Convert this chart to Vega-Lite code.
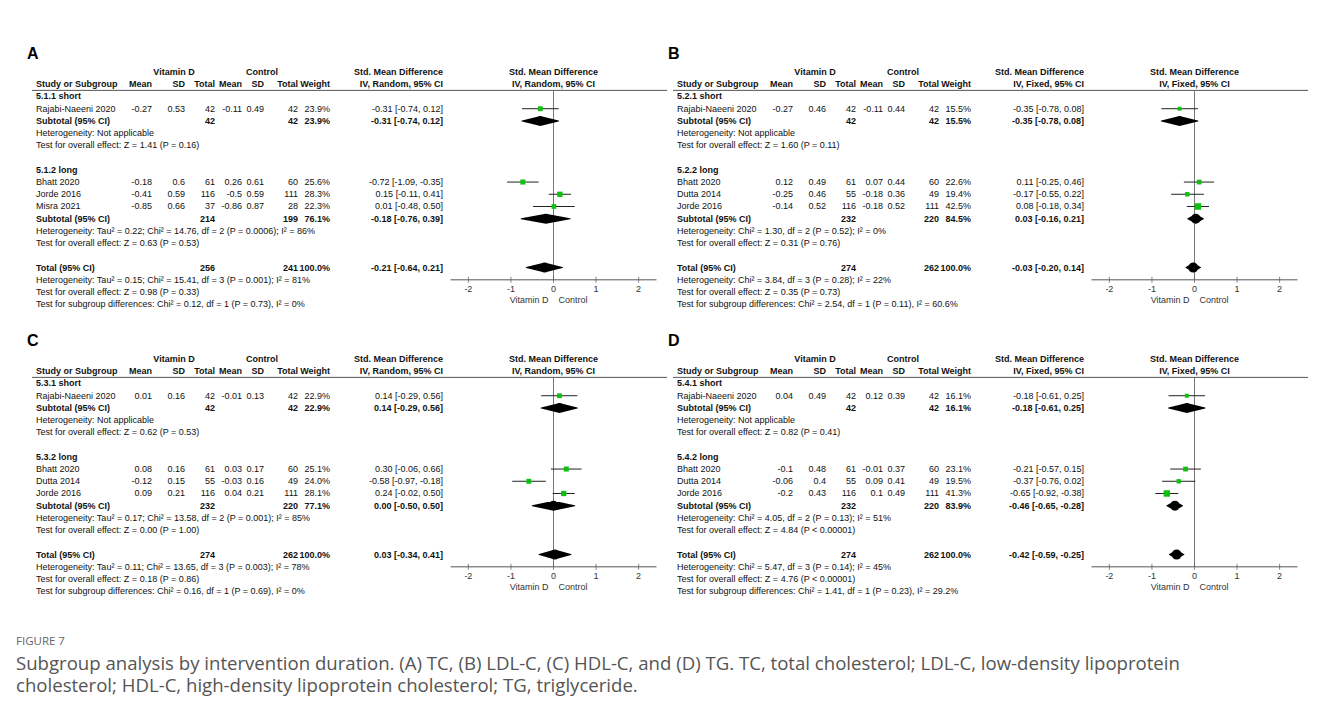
{
  "$schema": "https://vega.github.io/schema/vega-lite/v6.json",
  "background": "white",
  "padding": {"left": 16, "top": 40.5, "right": 0, "bottom": 8},
  "bounds": "flush",
  "config": {
    "view": {"stroke": null},
    "font": "Liberation Sans",
    "text": {"fontSize": 9, "color": "#111", "baseline": "middle"}
  },
  "title": {
    "text": "FIGURE 7",
    "subtitle": ["Subgroup analysis by intervention duration. (A) TC, (B) LDL-C, (C) HDL-C, and (D) TG. TC, total cholesterol; LDL-C, low-density lipoprotein", "cholesterol; HDL-C, high-density lipoprotein cholesterol; TG, triglyceride."],
    "orient": "bottom", "anchor": "start", "frame": "group", "dx": -16, "offset": 27,
    "font": "Open Sans", "fontSize": 11.5, "fontWeight": "normal", "color": "#666",
    "subtitleFont": "Open Sans", "subtitleFontSize": 18.6, "subtitleColor": "#555", "subtitleLineHeight": 22, "subtitlePadding": 8
  },
  "data": {"values": [
    {"p":"A","k":"L","r":-2,"c":0,"t":"A"},{"p":"A","k":"ax","r0":1.5,"r":17},
    {"p":"A","k":"fh","r":0,"t":"Std. Mean Difference"},{"p":"A","k":"fh","r":1,"t":"IV, Random, 95% CI"},
    {"p":"A","k":"fl","r":17,"t":"Vitamin D"},{"p":"A","k":"fr","r":17,"t":"Control"},
    {"p":"A","k":"tk","r":17,"v":-2},{"p":"A","k":"tk","r":17,"v":-1},{"p":"A","k":"tk","r":17,"v":0},{"p":"A","k":"tk","r":17,"v":1},{"p":"A","k":"tk","r":17,"v":2},
    {"p":"A","k":"ci","r":3,"est":-0.31,"lo":-0.74,"hi":0.12,"wt":23.9},
    {"p":"A","k":"ci","r":9,"est":-0.72,"lo":-1.09,"hi":-0.35,"wt":25.6},
    {"p":"A","k":"ci","r":10,"est":0.15,"lo":-0.11,"hi":0.41,"wt":28.3},
    {"p":"A","k":"ci","r":11,"est":0.01,"lo":-0.48,"hi":0.50,"wt":22.3},
    {"p":"A","k":"dm","r":4,"lo":-0.74,"est":-0.31,"hi":0.12},
    {"p":"A","k":"dm","r":12,"lo":-0.76,"est":-0.18,"hi":0.39},
    {"p":"A","k":"dm","r":16,"lo":-0.64,"est":-0.21,"hi":0.21},
    {"p":"A","k":"b","r":0,"c":10,"t":"Vitamin D"},{"p":"A","k":"b","r":0,"c":11,"t":"Control"},{"p":"A","k":"b","r":0,"c":9,"t":"Std. Mean Difference"},
    {"p":"A","k":"b","r":1,"c":1,"t":"Study or Subgroup"},{"p":"A","k":"b","r":1,"c":2,"t":"Mean"},{"p":"A","k":"b","r":1,"c":3,"t":"SD"},{"p":"A","k":"b","r":1,"c":4,"t":"Total"},{"p":"A","k":"b","r":1,"c":5,"t":"Mean"},{"p":"A","k":"b","r":1,"c":6,"t":"SD"},{"p":"A","k":"b","r":1,"c":7,"t":"Total"},{"p":"A","k":"b","r":1,"c":8,"t":"Weight"},{"p":"A","k":"b","r":1,"c":9,"t":"IV, Random, 95% CI"},
    {"p":"A","k":"b","r":2,"c":1,"t":"5.1.1 short"},
    {"p":"A","k":"s","r":3,"c":1,"t":"Rajabi-Naeeni 2020"},{"p":"A","k":"s","r":3,"c":2,"t":"-0.27"},{"p":"A","k":"s","r":3,"c":3,"t":"0.53"},{"p":"A","k":"s","r":3,"c":4,"t":"42"},{"p":"A","k":"s","r":3,"c":5,"t":"-0.11"},{"p":"A","k":"s","r":3,"c":6,"t":"0.49"},{"p":"A","k":"s","r":3,"c":7,"t":"42"},{"p":"A","k":"s","r":3,"c":8,"t":"23.9%"},{"p":"A","k":"s","r":3,"c":9,"t":"-0.31 [-0.74, 0.12]"},
    {"p":"A","k":"b","r":4,"c":1,"t":"Subtotal (95% CI)"},{"p":"A","k":"b","r":4,"c":4,"t":"42"},{"p":"A","k":"b","r":4,"c":7,"t":"42"},{"p":"A","k":"b","r":4,"c":8,"t":"23.9%"},{"p":"A","k":"b","r":4,"c":9,"t":"-0.31 [-0.74, 0.12]"},
    {"p":"A","k":"s","r":5,"c":1,"t":"Heterogeneity: Not applicable"},
    {"p":"A","k":"s","r":6,"c":1,"t":"Test for overall effect: Z = 1.41 (P = 0.16)"},
    {"p":"A","k":"b","r":8,"c":1,"t":"5.1.2 long"},
    {"p":"A","k":"s","r":9,"c":1,"t":"Bhatt 2020"},{"p":"A","k":"s","r":9,"c":2,"t":"-0.18"},{"p":"A","k":"s","r":9,"c":3,"t":"0.6"},{"p":"A","k":"s","r":9,"c":4,"t":"61"},{"p":"A","k":"s","r":9,"c":5,"t":"0.26"},{"p":"A","k":"s","r":9,"c":6,"t":"0.61"},{"p":"A","k":"s","r":9,"c":7,"t":"60"},{"p":"A","k":"s","r":9,"c":8,"t":"25.6%"},{"p":"A","k":"s","r":9,"c":9,"t":"-0.72 [-1.09, -0.35]"},
    {"p":"A","k":"s","r":10,"c":1,"t":"Jorde 2016"},{"p":"A","k":"s","r":10,"c":2,"t":"-0.41"},{"p":"A","k":"s","r":10,"c":3,"t":"0.59"},{"p":"A","k":"s","r":10,"c":4,"t":"116"},{"p":"A","k":"s","r":10,"c":5,"t":"-0.5"},{"p":"A","k":"s","r":10,"c":6,"t":"0.59"},{"p":"A","k":"s","r":10,"c":7,"t":"111"},{"p":"A","k":"s","r":10,"c":8,"t":"28.3%"},{"p":"A","k":"s","r":10,"c":9,"t":"0.15 [-0.11, 0.41]"},
    {"p":"A","k":"s","r":11,"c":1,"t":"Misra 2021"},{"p":"A","k":"s","r":11,"c":2,"t":"-0.85"},{"p":"A","k":"s","r":11,"c":3,"t":"0.66"},{"p":"A","k":"s","r":11,"c":4,"t":"37"},{"p":"A","k":"s","r":11,"c":5,"t":"-0.86"},{"p":"A","k":"s","r":11,"c":6,"t":"0.87"},{"p":"A","k":"s","r":11,"c":7,"t":"28"},{"p":"A","k":"s","r":11,"c":8,"t":"22.3%"},{"p":"A","k":"s","r":11,"c":9,"t":"0.01 [-0.48, 0.50]"},
    {"p":"A","k":"b","r":12,"c":1,"t":"Subtotal (95% CI)"},{"p":"A","k":"b","r":12,"c":4,"t":"214"},{"p":"A","k":"b","r":12,"c":7,"t":"199"},{"p":"A","k":"b","r":12,"c":8,"t":"76.1%"},{"p":"A","k":"b","r":12,"c":9,"t":"-0.18 [-0.76, 0.39]"},
    {"p":"A","k":"s","r":13,"c":1,"t":"Heterogeneity: Tau² = 0.22; Chi² = 14.76, df = 2 (P = 0.0006); I² = 86%"},
    {"p":"A","k":"s","r":14,"c":1,"t":"Test for overall effect: Z = 0.63 (P = 0.53)"},
    {"p":"A","k":"b","r":16,"c":1,"t":"Total (95% CI)"},{"p":"A","k":"b","r":16,"c":4,"t":"256"},{"p":"A","k":"b","r":16,"c":7,"t":"241"},{"p":"A","k":"b","r":16,"c":8,"t":"100.0%"},{"p":"A","k":"b","r":16,"c":9,"t":"-0.21 [-0.64, 0.21]"},
    {"p":"A","k":"s","r":17,"c":1,"t":"Heterogeneity: Tau² = 0.15; Chi² = 15.41, df = 3 (P = 0.001); I² = 81%"},
    {"p":"A","k":"s","r":18,"c":1,"t":"Test for overall effect: Z = 0.98 (P = 0.33)"},
    {"p":"A","k":"s","r":19,"c":1,"t":"Test for subgroup differences: Chi² = 0.12, df = 1 (P = 0.73), I² = 0%"},

    {"p":"B","k":"L","r":-2,"c":0,"t":"B"},{"p":"B","k":"ax","r0":1.5,"r":17},
    {"p":"B","k":"fh","r":0,"t":"Std. Mean Difference"},{"p":"B","k":"fh","r":1,"t":"IV, Fixed, 95% CI"},
    {"p":"B","k":"fl","r":17,"t":"Vitamin D"},{"p":"B","k":"fr","r":17,"t":"Control"},
    {"p":"B","k":"tk","r":17,"v":-2},{"p":"B","k":"tk","r":17,"v":-1},{"p":"B","k":"tk","r":17,"v":0},{"p":"B","k":"tk","r":17,"v":1},{"p":"B","k":"tk","r":17,"v":2},
    {"p":"B","k":"ci","r":3,"est":-0.35,"lo":-0.78,"hi":0.08,"wt":15.5},
    {"p":"B","k":"ci","r":9,"est":0.11,"lo":-0.25,"hi":0.46,"wt":22.6},
    {"p":"B","k":"ci","r":10,"est":-0.17,"lo":-0.55,"hi":0.22,"wt":19.4},
    {"p":"B","k":"ci","r":11,"est":0.08,"lo":-0.18,"hi":0.34,"wt":42.5},
    {"p":"B","k":"dm","r":4,"lo":-0.78,"est":-0.35,"hi":0.08},
    {"p":"B","k":"dm","r":12,"lo":-0.16,"est":0.03,"hi":0.21},
    {"p":"B","k":"dm","r":16,"lo":-0.20,"est":-0.03,"hi":0.14},
    {"p":"B","k":"b","r":0,"c":10,"t":"Vitamin D"},{"p":"B","k":"b","r":0,"c":11,"t":"Control"},{"p":"B","k":"b","r":0,"c":9,"t":"Std. Mean Difference"},
    {"p":"B","k":"b","r":1,"c":1,"t":"Study or Subgroup"},{"p":"B","k":"b","r":1,"c":2,"t":"Mean"},{"p":"B","k":"b","r":1,"c":3,"t":"SD"},{"p":"B","k":"b","r":1,"c":4,"t":"Total"},{"p":"B","k":"b","r":1,"c":5,"t":"Mean"},{"p":"B","k":"b","r":1,"c":6,"t":"SD"},{"p":"B","k":"b","r":1,"c":7,"t":"Total"},{"p":"B","k":"b","r":1,"c":8,"t":"Weight"},{"p":"B","k":"b","r":1,"c":9,"t":"IV, Fixed, 95% CI"},
    {"p":"B","k":"b","r":2,"c":1,"t":"5.2.1 short"},
    {"p":"B","k":"s","r":3,"c":1,"t":"Rajabi-Naeeni 2020"},{"p":"B","k":"s","r":3,"c":2,"t":"-0.27"},{"p":"B","k":"s","r":3,"c":3,"t":"0.46"},{"p":"B","k":"s","r":3,"c":4,"t":"42"},{"p":"B","k":"s","r":3,"c":5,"t":"-0.11"},{"p":"B","k":"s","r":3,"c":6,"t":"0.44"},{"p":"B","k":"s","r":3,"c":7,"t":"42"},{"p":"B","k":"s","r":3,"c":8,"t":"15.5%"},{"p":"B","k":"s","r":3,"c":9,"t":"-0.35 [-0.78, 0.08]"},
    {"p":"B","k":"b","r":4,"c":1,"t":"Subtotal (95% CI)"},{"p":"B","k":"b","r":4,"c":4,"t":"42"},{"p":"B","k":"b","r":4,"c":7,"t":"42"},{"p":"B","k":"b","r":4,"c":8,"t":"15.5%"},{"p":"B","k":"b","r":4,"c":9,"t":"-0.35 [-0.78, 0.08]"},
    {"p":"B","k":"s","r":5,"c":1,"t":"Heterogeneity: Not applicable"},
    {"p":"B","k":"s","r":6,"c":1,"t":"Test for overall effect: Z = 1.60 (P = 0.11)"},
    {"p":"B","k":"b","r":8,"c":1,"t":"5.2.2 long"},
    {"p":"B","k":"s","r":9,"c":1,"t":"Bhatt 2020"},{"p":"B","k":"s","r":9,"c":2,"t":"0.12"},{"p":"B","k":"s","r":9,"c":3,"t":"0.49"},{"p":"B","k":"s","r":9,"c":4,"t":"61"},{"p":"B","k":"s","r":9,"c":5,"t":"0.07"},{"p":"B","k":"s","r":9,"c":6,"t":"0.44"},{"p":"B","k":"s","r":9,"c":7,"t":"60"},{"p":"B","k":"s","r":9,"c":8,"t":"22.6%"},{"p":"B","k":"s","r":9,"c":9,"t":"0.11 [-0.25, 0.46]"},
    {"p":"B","k":"s","r":10,"c":1,"t":"Dutta 2014"},{"p":"B","k":"s","r":10,"c":2,"t":"-0.25"},{"p":"B","k":"s","r":10,"c":3,"t":"0.46"},{"p":"B","k":"s","r":10,"c":4,"t":"55"},{"p":"B","k":"s","r":10,"c":5,"t":"-0.18"},{"p":"B","k":"s","r":10,"c":6,"t":"0.36"},{"p":"B","k":"s","r":10,"c":7,"t":"49"},{"p":"B","k":"s","r":10,"c":8,"t":"19.4%"},{"p":"B","k":"s","r":10,"c":9,"t":"-0.17 [-0.55, 0.22]"},
    {"p":"B","k":"s","r":11,"c":1,"t":"Jorde 2016"},{"p":"B","k":"s","r":11,"c":2,"t":"-0.14"},{"p":"B","k":"s","r":11,"c":3,"t":"0.52"},{"p":"B","k":"s","r":11,"c":4,"t":"116"},{"p":"B","k":"s","r":11,"c":5,"t":"-0.18"},{"p":"B","k":"s","r":11,"c":6,"t":"0.52"},{"p":"B","k":"s","r":11,"c":7,"t":"111"},{"p":"B","k":"s","r":11,"c":8,"t":"42.5%"},{"p":"B","k":"s","r":11,"c":9,"t":"0.08 [-0.18, 0.34]"},
    {"p":"B","k":"b","r":12,"c":1,"t":"Subtotal (95% CI)"},{"p":"B","k":"b","r":12,"c":4,"t":"232"},{"p":"B","k":"b","r":12,"c":7,"t":"220"},{"p":"B","k":"b","r":12,"c":8,"t":"84.5%"},{"p":"B","k":"b","r":12,"c":9,"t":"0.03 [-0.16, 0.21]"},
    {"p":"B","k":"s","r":13,"c":1,"t":"Heterogeneity: Chi² = 1.30, df = 2 (P = 0.52); I² = 0%"},
    {"p":"B","k":"s","r":14,"c":1,"t":"Test for overall effect: Z = 0.31 (P = 0.76)"},
    {"p":"B","k":"b","r":16,"c":1,"t":"Total (95% CI)"},{"p":"B","k":"b","r":16,"c":4,"t":"274"},{"p":"B","k":"b","r":16,"c":7,"t":"262"},{"p":"B","k":"b","r":16,"c":8,"t":"100.0%"},{"p":"B","k":"b","r":16,"c":9,"t":"-0.03 [-0.20, 0.14]"},
    {"p":"B","k":"s","r":17,"c":1,"t":"Heterogeneity: Chi² = 3.84, df = 3 (P = 0.28); I² = 22%"},
    {"p":"B","k":"s","r":18,"c":1,"t":"Test for overall effect: Z = 0.35 (P = 0.73)"},
    {"p":"B","k":"s","r":19,"c":1,"t":"Test for subgroup differences: Chi² = 2.54, df = 1 (P = 0.11), I² = 60.6%"},

    {"p":"C","k":"L","r":-2,"c":0,"t":"C"},{"p":"C","k":"ax","r0":1.5,"r":17},
    {"p":"C","k":"fh","r":0,"t":"Std. Mean Difference"},{"p":"C","k":"fh","r":1,"t":"IV, Random, 95% CI"},
    {"p":"C","k":"fl","r":17,"t":"Vitamin D"},{"p":"C","k":"fr","r":17,"t":"Control"},
    {"p":"C","k":"tk","r":17,"v":-2},{"p":"C","k":"tk","r":17,"v":-1},{"p":"C","k":"tk","r":17,"v":0},{"p":"C","k":"tk","r":17,"v":1},{"p":"C","k":"tk","r":17,"v":2},
    {"p":"C","k":"ci","r":3,"est":0.14,"lo":-0.29,"hi":0.56,"wt":22.9},
    {"p":"C","k":"ci","r":9,"est":0.30,"lo":-0.06,"hi":0.66,"wt":25.1},
    {"p":"C","k":"ci","r":10,"est":-0.58,"lo":-0.97,"hi":-0.18,"wt":24.0},
    {"p":"C","k":"ci","r":11,"est":0.24,"lo":-0.02,"hi":0.50,"wt":28.1},
    {"p":"C","k":"dm","r":4,"lo":-0.29,"est":0.14,"hi":0.56},
    {"p":"C","k":"dm","r":12,"lo":-0.50,"est":0.00,"hi":0.50},
    {"p":"C","k":"dm","r":16,"lo":-0.34,"est":0.03,"hi":0.41},
    {"p":"C","k":"b","r":0,"c":10,"t":"Vitamin D"},{"p":"C","k":"b","r":0,"c":11,"t":"Control"},{"p":"C","k":"b","r":0,"c":9,"t":"Std. Mean Difference"},
    {"p":"C","k":"b","r":1,"c":1,"t":"Study or Subgroup"},{"p":"C","k":"b","r":1,"c":2,"t":"Mean"},{"p":"C","k":"b","r":1,"c":3,"t":"SD"},{"p":"C","k":"b","r":1,"c":4,"t":"Total"},{"p":"C","k":"b","r":1,"c":5,"t":"Mean"},{"p":"C","k":"b","r":1,"c":6,"t":"SD"},{"p":"C","k":"b","r":1,"c":7,"t":"Total"},{"p":"C","k":"b","r":1,"c":8,"t":"Weight"},{"p":"C","k":"b","r":1,"c":9,"t":"IV, Random, 95% CI"},
    {"p":"C","k":"b","r":2,"c":1,"t":"5.3.1 short"},
    {"p":"C","k":"s","r":3,"c":1,"t":"Rajabi-Naeeni 2020"},{"p":"C","k":"s","r":3,"c":2,"t":"0.01"},{"p":"C","k":"s","r":3,"c":3,"t":"0.16"},{"p":"C","k":"s","r":3,"c":4,"t":"42"},{"p":"C","k":"s","r":3,"c":5,"t":"-0.01"},{"p":"C","k":"s","r":3,"c":6,"t":"0.13"},{"p":"C","k":"s","r":3,"c":7,"t":"42"},{"p":"C","k":"s","r":3,"c":8,"t":"22.9%"},{"p":"C","k":"s","r":3,"c":9,"t":"0.14 [-0.29, 0.56]"},
    {"p":"C","k":"b","r":4,"c":1,"t":"Subtotal (95% CI)"},{"p":"C","k":"b","r":4,"c":4,"t":"42"},{"p":"C","k":"b","r":4,"c":7,"t":"42"},{"p":"C","k":"b","r":4,"c":8,"t":"22.9%"},{"p":"C","k":"b","r":4,"c":9,"t":"0.14 [-0.29, 0.56]"},
    {"p":"C","k":"s","r":5,"c":1,"t":"Heterogeneity: Not applicable"},
    {"p":"C","k":"s","r":6,"c":1,"t":"Test for overall effect: Z = 0.62 (P = 0.53)"},
    {"p":"C","k":"b","r":8,"c":1,"t":"5.3.2 long"},
    {"p":"C","k":"s","r":9,"c":1,"t":"Bhatt 2020"},{"p":"C","k":"s","r":9,"c":2,"t":"0.08"},{"p":"C","k":"s","r":9,"c":3,"t":"0.16"},{"p":"C","k":"s","r":9,"c":4,"t":"61"},{"p":"C","k":"s","r":9,"c":5,"t":"0.03"},{"p":"C","k":"s","r":9,"c":6,"t":"0.17"},{"p":"C","k":"s","r":9,"c":7,"t":"60"},{"p":"C","k":"s","r":9,"c":8,"t":"25.1%"},{"p":"C","k":"s","r":9,"c":9,"t":"0.30 [-0.06, 0.66]"},
    {"p":"C","k":"s","r":10,"c":1,"t":"Dutta 2014"},{"p":"C","k":"s","r":10,"c":2,"t":"-0.12"},{"p":"C","k":"s","r":10,"c":3,"t":"0.15"},{"p":"C","k":"s","r":10,"c":4,"t":"55"},{"p":"C","k":"s","r":10,"c":5,"t":"-0.03"},{"p":"C","k":"s","r":10,"c":6,"t":"0.16"},{"p":"C","k":"s","r":10,"c":7,"t":"49"},{"p":"C","k":"s","r":10,"c":8,"t":"24.0%"},{"p":"C","k":"s","r":10,"c":9,"t":"-0.58 [-0.97, -0.18]"},
    {"p":"C","k":"s","r":11,"c":1,"t":"Jorde 2016"},{"p":"C","k":"s","r":11,"c":2,"t":"0.09"},{"p":"C","k":"s","r":11,"c":3,"t":"0.21"},{"p":"C","k":"s","r":11,"c":4,"t":"116"},{"p":"C","k":"s","r":11,"c":5,"t":"0.04"},{"p":"C","k":"s","r":11,"c":6,"t":"0.21"},{"p":"C","k":"s","r":11,"c":7,"t":"111"},{"p":"C","k":"s","r":11,"c":8,"t":"28.1%"},{"p":"C","k":"s","r":11,"c":9,"t":"0.24 [-0.02, 0.50]"},
    {"p":"C","k":"b","r":12,"c":1,"t":"Subtotal (95% CI)"},{"p":"C","k":"b","r":12,"c":4,"t":"232"},{"p":"C","k":"b","r":12,"c":7,"t":"220"},{"p":"C","k":"b","r":12,"c":8,"t":"77.1%"},{"p":"C","k":"b","r":12,"c":9,"t":"0.00 [-0.50, 0.50]"},
    {"p":"C","k":"s","r":13,"c":1,"t":"Heterogeneity: Tau² = 0.17; Chi² = 13.58, df = 2 (P = 0.001); I² = 85%"},
    {"p":"C","k":"s","r":14,"c":1,"t":"Test for overall effect: Z = 0.00 (P = 1.00)"},
    {"p":"C","k":"b","r":16,"c":1,"t":"Total (95% CI)"},{"p":"C","k":"b","r":16,"c":4,"t":"274"},{"p":"C","k":"b","r":16,"c":7,"t":"262"},{"p":"C","k":"b","r":16,"c":8,"t":"100.0%"},{"p":"C","k":"b","r":16,"c":9,"t":"0.03 [-0.34, 0.41]"},
    {"p":"C","k":"s","r":17,"c":1,"t":"Heterogeneity: Tau² = 0.11; Chi² = 13.65, df = 3 (P = 0.003); I² = 78%"},
    {"p":"C","k":"s","r":18,"c":1,"t":"Test for overall effect: Z = 0.18 (P = 0.86)"},
    {"p":"C","k":"s","r":19,"c":1,"t":"Test for subgroup differences: Chi² = 0.16, df = 1 (P = 0.69), I² = 0%"},

    {"p":"D","k":"L","r":-2,"c":0,"t":"D"},{"p":"D","k":"ax","r0":1.5,"r":17},
    {"p":"D","k":"fh","r":0,"t":"Std. Mean Difference"},{"p":"D","k":"fh","r":1,"t":"IV, Fixed, 95% CI"},
    {"p":"D","k":"fl","r":17,"t":"Vitamin D"},{"p":"D","k":"fr","r":17,"t":"Control"},
    {"p":"D","k":"tk","r":17,"v":-2},{"p":"D","k":"tk","r":17,"v":-1},{"p":"D","k":"tk","r":17,"v":0},{"p":"D","k":"tk","r":17,"v":1},{"p":"D","k":"tk","r":17,"v":2},
    {"p":"D","k":"ci","r":3,"est":-0.18,"lo":-0.61,"hi":0.25,"wt":16.1},
    {"p":"D","k":"ci","r":9,"est":-0.21,"lo":-0.57,"hi":0.15,"wt":23.1},
    {"p":"D","k":"ci","r":10,"est":-0.37,"lo":-0.76,"hi":0.02,"wt":19.5},
    {"p":"D","k":"ci","r":11,"est":-0.65,"lo":-0.92,"hi":-0.38,"wt":41.3},
    {"p":"D","k":"dm","r":4,"lo":-0.61,"est":-0.18,"hi":0.25},
    {"p":"D","k":"dm","r":12,"lo":-0.65,"est":-0.46,"hi":-0.28},
    {"p":"D","k":"dm","r":16,"lo":-0.59,"est":-0.42,"hi":-0.25},
    {"p":"D","k":"b","r":0,"c":10,"t":"Vitamin D"},{"p":"D","k":"b","r":0,"c":11,"t":"Control"},{"p":"D","k":"b","r":0,"c":9,"t":"Std. Mean Difference"},
    {"p":"D","k":"b","r":1,"c":1,"t":"Study or Subgroup"},{"p":"D","k":"b","r":1,"c":2,"t":"Mean"},{"p":"D","k":"b","r":1,"c":3,"t":"SD"},{"p":"D","k":"b","r":1,"c":4,"t":"Total"},{"p":"D","k":"b","r":1,"c":5,"t":"Mean"},{"p":"D","k":"b","r":1,"c":6,"t":"SD"},{"p":"D","k":"b","r":1,"c":7,"t":"Total"},{"p":"D","k":"b","r":1,"c":8,"t":"Weight"},{"p":"D","k":"b","r":1,"c":9,"t":"IV, Fixed, 95% CI"},
    {"p":"D","k":"b","r":2,"c":1,"t":"5.4.1 short"},
    {"p":"D","k":"s","r":3,"c":1,"t":"Rajabi-Naeeni 2020"},{"p":"D","k":"s","r":3,"c":2,"t":"0.04"},{"p":"D","k":"s","r":3,"c":3,"t":"0.49"},{"p":"D","k":"s","r":3,"c":4,"t":"42"},{"p":"D","k":"s","r":3,"c":5,"t":"0.12"},{"p":"D","k":"s","r":3,"c":6,"t":"0.39"},{"p":"D","k":"s","r":3,"c":7,"t":"42"},{"p":"D","k":"s","r":3,"c":8,"t":"16.1%"},{"p":"D","k":"s","r":3,"c":9,"t":"-0.18 [-0.61, 0.25]"},
    {"p":"D","k":"b","r":4,"c":1,"t":"Subtotal (95% CI)"},{"p":"D","k":"b","r":4,"c":4,"t":"42"},{"p":"D","k":"b","r":4,"c":7,"t":"42"},{"p":"D","k":"b","r":4,"c":8,"t":"16.1%"},{"p":"D","k":"b","r":4,"c":9,"t":"-0.18 [-0.61, 0.25]"},
    {"p":"D","k":"s","r":5,"c":1,"t":"Heterogeneity: Not applicable"},
    {"p":"D","k":"s","r":6,"c":1,"t":"Test for overall effect: Z = 0.82 (P = 0.41)"},
    {"p":"D","k":"b","r":8,"c":1,"t":"5.4.2 long"},
    {"p":"D","k":"s","r":9,"c":1,"t":"Bhatt 2020"},{"p":"D","k":"s","r":9,"c":2,"t":"-0.1"},{"p":"D","k":"s","r":9,"c":3,"t":"0.48"},{"p":"D","k":"s","r":9,"c":4,"t":"61"},{"p":"D","k":"s","r":9,"c":5,"t":"-0.01"},{"p":"D","k":"s","r":9,"c":6,"t":"0.37"},{"p":"D","k":"s","r":9,"c":7,"t":"60"},{"p":"D","k":"s","r":9,"c":8,"t":"23.1%"},{"p":"D","k":"s","r":9,"c":9,"t":"-0.21 [-0.57, 0.15]"},
    {"p":"D","k":"s","r":10,"c":1,"t":"Dutta 2014"},{"p":"D","k":"s","r":10,"c":2,"t":"-0.06"},{"p":"D","k":"s","r":10,"c":3,"t":"0.4"},{"p":"D","k":"s","r":10,"c":4,"t":"55"},{"p":"D","k":"s","r":10,"c":5,"t":"0.09"},{"p":"D","k":"s","r":10,"c":6,"t":"0.41"},{"p":"D","k":"s","r":10,"c":7,"t":"49"},{"p":"D","k":"s","r":10,"c":8,"t":"19.5%"},{"p":"D","k":"s","r":10,"c":9,"t":"-0.37 [-0.76, 0.02]"},
    {"p":"D","k":"s","r":11,"c":1,"t":"Jorde 2016"},{"p":"D","k":"s","r":11,"c":2,"t":"-0.2"},{"p":"D","k":"s","r":11,"c":3,"t":"0.43"},{"p":"D","k":"s","r":11,"c":4,"t":"116"},{"p":"D","k":"s","r":11,"c":5,"t":"0.1"},{"p":"D","k":"s","r":11,"c":6,"t":"0.49"},{"p":"D","k":"s","r":11,"c":7,"t":"111"},{"p":"D","k":"s","r":11,"c":8,"t":"41.3%"},{"p":"D","k":"s","r":11,"c":9,"t":"-0.65 [-0.92, -0.38]"},
    {"p":"D","k":"b","r":12,"c":1,"t":"Subtotal (95% CI)"},{"p":"D","k":"b","r":12,"c":4,"t":"232"},{"p":"D","k":"b","r":12,"c":7,"t":"220"},{"p":"D","k":"b","r":12,"c":8,"t":"83.9%"},{"p":"D","k":"b","r":12,"c":9,"t":"-0.46 [-0.65, -0.28]"},
    {"p":"D","k":"s","r":13,"c":1,"t":"Heterogeneity: Chi² = 4.05, df = 2 (P = 0.13); I² = 51%"},
    {"p":"D","k":"s","r":14,"c":1,"t":"Test for overall effect: Z = 4.84 (P < 0.00001)"},
    {"p":"D","k":"b","r":16,"c":1,"t":"Total (95% CI)"},{"p":"D","k":"b","r":16,"c":4,"t":"274"},{"p":"D","k":"b","r":16,"c":7,"t":"262"},{"p":"D","k":"b","r":16,"c":8,"t":"100.0%"},{"p":"D","k":"b","r":16,"c":9,"t":"-0.42 [-0.59, -0.25]"},
    {"p":"D","k":"s","r":17,"c":1,"t":"Heterogeneity: Chi² = 5.47, df = 3 (P = 0.14); I² = 45%"},
    {"p":"D","k":"s","r":18,"c":1,"t":"Test for overall effect: Z = 4.76 (P < 0.00001)"},
    {"p":"D","k":"s","r":19,"c":1,"t":"Test for subgroup differences: Chi² = 1.41, df = 1 (P = 0.23), I² = 29.2%"}
  ]},
  "facet": {"field": "p", "type": "nominal", "header": {"title": null, "labels": false, "labelExpr": "''", "labelFontSize": 0.1, "labelPadding": 0, "labelColor": "transparent"}},
  "columns": 2,
  "spacing": {"row": 7, "column": 6},
  "spec": {
    "width": 635,
    "height": 280,
    "encoding": {
      "y": {"field": "r", "type": "quantitative", "axis": null, "scale": {"domain": [-2.5, 20.41], "reverse": true, "nice": false, "zero": false}}
    },
    "layer": [
      {
        "encoding": {
          "x": {"field": "c", "type": "quantitative", "axis": null, "scale": {"domain": [0,1,2,3,4,5,6,7,8,9,10,11], "range": [-5,4,120,153,183,210,232,266,298,411,142,230], "nice": false, "zero": false}},
          "text": {"field": "t", "type": "nominal"}
        },
        "layer": [
          {"transform": [{"filter": "datum.k === 's' && datum.c === 1"}], "mark": {"type": "text", "align": "left"}},
          {"transform": [{"filter": "datum.k === 'b' && datum.c === 1"}], "mark": {"type": "text", "align": "left", "fontWeight": "bold"}},
          {"transform": [{"filter": "datum.k === 's' && datum.c >= 2 && datum.c <= 9"}], "mark": {"type": "text", "align": "right"}},
          {"transform": [{"filter": "datum.k === 'b' && datum.c >= 2 && datum.c <= 9"}], "mark": {"type": "text", "align": "right", "fontWeight": "bold"}},
          {"transform": [{"filter": "datum.c >= 10"}], "mark": {"type": "text", "align": "center", "fontWeight": "bold"}},
          {"transform": [{"filter": "datum.k === 'L'"}], "mark": {"type": "text", "align": "left", "fontWeight": "bold", "fontSize": 16, "color": "#000", "dy": 6}}
        ]
      },
      {
        "layer": [
          {"transform": [{"filter": "datum.k === 'ax'"}], "mark": {"type": "rule", "color": "#555", "strokeWidth": 1},
           "encoding": {"y": {"field": "r0", "type": "quantitative"}}},
          {"transform": [{"filter": "datum.k === 'ax'"}], "mark": {"type": "rule", "color": "#555", "strokeWidth": 1},
           "encoding": {
             "x": {"datum": -2.42, "type": "quantitative", "axis": null, "scale": {"domain": [-2.42, 2.42], "range": [418.5, 624.5], "nice": false, "zero": false}},
             "x2": {"datum": 2.42}}},
          {"transform": [{"filter": "datum.k === 'ax'"}], "mark": {"type": "rule", "color": "#777", "strokeWidth": 1},
           "encoding": {
             "x": {"datum": 0, "type": "quantitative", "axis": null, "scale": {"domain": [-2.42, 2.42], "range": [418.5, 624.5], "nice": false, "zero": false}},
             "y": {"field": "r0", "type": "quantitative"}, "y2": {"field": "r"}}},
          {"transform": [{"filter": "datum.k === 'tk'"}], "mark": {"type": "tick", "orient": "vertical", "color": "#555", "size": 6, "thickness": 1},
           "encoding": {
             "x": {"field": "v", "type": "quantitative", "axis": null, "scale": {"domain": [-2.42, 2.42], "range": [418.5, 624.5], "nice": false, "zero": false}}}},
          {"transform": [{"filter": "datum.k === 'tk'"}], "mark": {"type": "text", "color": "#333", "align": "center", "dy": 9.5},
           "encoding": {
             "x": {"field": "v", "type": "quantitative", "axis": null, "scale": {"domain": [-2.42, 2.42], "range": [418.5, 624.5], "nice": false, "zero": false}},
             "text": {"field": "v", "type": "nominal"}}},
          {"transform": [{"filter": "datum.k === 'fh'"}], "mark": {"type": "text", "align": "center", "fontWeight": "bold"},
           "encoding": {
             "x": {"datum": 0, "type": "quantitative", "axis": null, "scale": {"domain": [-2.42, 2.42], "range": [418.5, 624.5], "nice": false, "zero": false}},
             "text": {"field": "t", "type": "nominal"}}},
          {"transform": [{"filter": "datum.k === 'fl'"}], "mark": {"type": "text", "align": "right", "dx": -5, "dy": 20, "color": "#333"},
           "encoding": {
             "x": {"datum": 0, "type": "quantitative", "axis": null, "scale": {"domain": [-2.42, 2.42], "range": [418.5, 624.5], "nice": false, "zero": false}},
             "text": {"field": "t", "type": "nominal"}}},
          {"transform": [{"filter": "datum.k === 'fr'"}], "mark": {"type": "text", "align": "left", "dx": 5, "dy": 20, "color": "#333"},
           "encoding": {
             "x": {"datum": 0, "type": "quantitative", "axis": null, "scale": {"domain": [-2.42, 2.42], "range": [418.5, 624.5], "nice": false, "zero": false}},
             "text": {"field": "t", "type": "nominal"}}},
          {"transform": [{"filter": "datum.k === 'ci'"}], "mark": {"type": "rule", "color": "#222", "strokeWidth": 1},
           "encoding": {
             "x": {"field": "lo", "type": "quantitative", "axis": null, "scale": {"domain": [-2.42, 2.42], "range": [418.5, 624.5], "nice": false, "zero": false}},
             "x2": {"field": "hi"}}},
          {"transform": [{"filter": "datum.k === 'ci'"}], "mark": {"type": "point", "shape": "square", "filled": true, "color": "#10c010", "opacity": 1},
           "encoding": {
             "x": {"field": "est", "type": "quantitative", "axis": null, "scale": {"domain": [-2.42, 2.42], "range": [418.5, 624.5], "nice": false, "zero": false}},
             "size": {"field": "wt", "type": "quantitative", "legend": null, "scale": {"domain": [0, 100], "range": [0, 100]}}}},
          {"transform": [{"filter": "datum.k === 'dm'"}, {"fold": ["lo", "est", "hi"], "as": ["pt", "xv"]}],
           "mark": {"type": "trail", "color": "#000"},
           "encoding": {
             "x": {"field": "xv", "type": "quantitative", "axis": null, "scale": {"domain": [-2.42, 2.42], "range": [418.5, 624.5], "nice": false, "zero": false}},
             "detail": {"field": "r", "type": "nominal"},
             "order": {"field": "xv", "type": "quantitative"},
             "size": {"condition": {"test": "datum.pt === 'est'", "value": 10}, "value": 0}}}
        ]
      }
    ],
    "resolve": {"scale": {"x": "independent"}}
  }
}
